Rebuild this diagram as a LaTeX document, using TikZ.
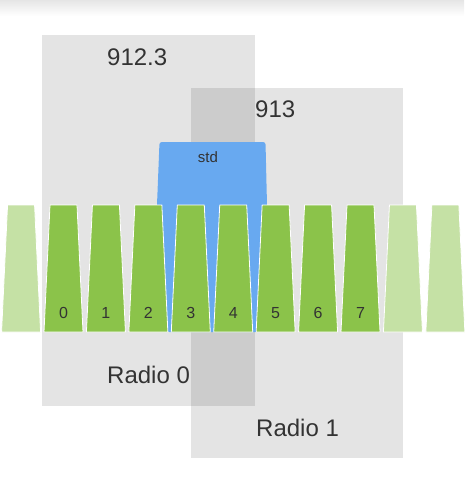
\documentclass[tikz,border=0pt]{standalone}
\usepackage{fontspec}
\setmainfont{Liberation Sans}
\usetikzlibrary{
    positioning
}
\definecolor{boxgray}{HTML}{000000}
\definecolor{chgreen}{HTML}{8BC34A}
\definecolor{chlight}{HTML}{C5E1A5}
\definecolor{stdblue}{HTML}{68A9F0}
\definecolor{txtgray}{HTML}{333333}
\tikzset{
    radio/.style={
        rectangle,
        fill=boxgray,
        fill opacity=0.105,
        inner sep=0pt
    },
    canal/.style={
        fill=chgreen,
        draw=white,
        line width=0.8pt,
        line join=round
    },
    canal libre/.style={
        canal,
        fill=chlight
    },
    big/.style={
        text=txtgray,
        font=\fontsize{24}{28}\selectfont,
        anchor=west,
        inner sep=0pt
    },
    num/.style={
        text=txtgray,
        font=\fontsize{16}{18}\selectfont,
        inner sep=0pt
    }
}

\begin{document}
\begin{tikzpicture}[
    x=1pt,
    y=-1pt
]
    \useasboundingbox (0,0) rectangle (464,488);

    % Sombra superior
    \shade[top color=black!10, bottom color=white] (0,0) rectangle (464,16);

    % Radios
    \node[radio, minimum width=213pt, minimum height=371pt] (radio0) at (148.5,220.5) {};
    \node[radio, minimum width=212pt, minimum height=370pt] (radio1) at (297,273)    {};

    \node[big] (f0) at (107,57)  {912.3};
    \node[big] (f1) at (255,109) {913};
    \node[big] (r0) at (107,375) {Radio 0};
    \node[big] (r1) at (256,428) {Radio 1};

    % Canal std
    \fill[stdblue, rounded corners=2.5pt]
        (167,332) -- (157,205) -- (159.5,142) -- (265.5,142) -- (267,205) -- (258,332) -- cycle;
    \node[num, font=\fontsize{15}{17}\selectfont] (std) at (208,157) {std};

    % Canales
    \foreach \i in {0,...,7} {
        \pgfmathsetmacro\cx{63.5+42.43*\i}
        \filldraw[canal] (\cx-19.5,332) -- (\cx-13.5,205) -- (\cx+13.5,205) -- (\cx+19.5,332) -- cycle;
        \node[num] (n\i) at (\cx,313) {\i};
    }
    \foreach \i in {-1,8,9} {
        \pgfmathsetmacro\cx{63.5+42.43*\i}
        \filldraw[canal libre] (\cx-19.5,332) -- (\cx-13.5,205) -- (\cx+13.5,205) -- (\cx+19.5,332) -- cycle;
    }

\end{tikzpicture}
\end{document}
